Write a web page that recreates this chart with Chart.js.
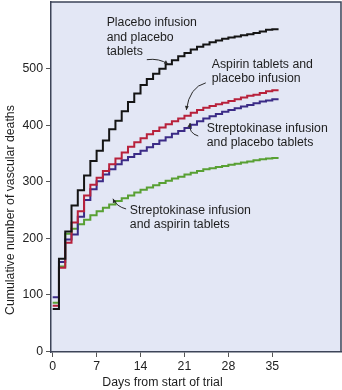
<!DOCTYPE html>
<html>
<head>
<meta charset="utf-8">
<script src="https://cdn.jsdelivr.net/npm/chart.js@4"></script>
<style>
  html, body { margin: 0; padding: 0; background: #fff; }
  canvas { display: block; }
</style>
</head>
<body>
<canvas id="deathsChart" width="342" height="390"></canvas>
<script>
const days = [0, 1, 2, 3, 4, 5, 6, 7, 8, 9, 10, 11, 12, 13, 14, 15, 16, 17, 18, 19, 20, 21, 22, 23, 24, 25, 26, 27, 28, 29, 30, 31, 32, 33, 34, 35, 36];

const placeboBoth = [75, 164, 212, 258, 285, 311, 337, 355, 373, 393, 408, 425, 441, 456, 471, 482, 491, 500, 508, 515, 522, 528, 534, 539, 543, 547, 550, 553, 555, 557, 559, 561, 563, 566, 569, 570, 570];
const aspirinOnly = [81, 148, 192, 228, 248, 276, 295, 307, 319, 331, 341, 352, 362, 370, 377, 384, 390, 396, 402, 407, 412, 417, 422, 427, 431, 434, 437, 440, 443, 446, 449, 452, 454, 457, 460, 462, 462];
const streptoOnly = [96, 158, 198, 207, 238, 268, 287, 301, 313, 322, 331, 338, 344, 349, 355, 361, 367, 373, 379, 385, 390, 395, 401, 407, 412, 416, 420, 424, 427, 430, 433, 436, 439, 442, 444, 446, 446];
const streptoAspirin = [86, 150, 208, 217, 225, 233, 241, 248, 254, 260, 266, 271, 276, 281, 286, 290, 294, 298, 302, 306, 309, 313, 316, 319, 322, 324, 326, 328, 330, 332, 334, 336, 338, 340, 341, 342, 342];

const xTicks = [0, 7, 14, 21, 28, 35];
const yTicks = [0, 100, 200, 300, 400, 500];

const xTitle = 'Days from start of trial';
const yTitle = 'Cumulative number of vascular deaths';

// labels: text lines, anchor in data units, arrow as start / control / end in data units
const notes = [
    { lines: ['Placebo infusion', 'and placebo', 'tablets'], at: [8.6, 581],
      arrow: [[15.0, 516], [17.0, 519], [18.4, 508]] },
    { lines: ['Aspirin tablets and', 'placebo infusion'], at: [25.35, 508],
      arrow: [[24.4, 475], [21.8, 468], [21.3, 427]] },
    { lines: ['Streptokinase infusion', 'and placebo tablets'], at: [24.55, 394],
      arrow: [[23.2, 381], [21.6, 386], [21.9, 404]] },
    { lines: ['Streptokinase infusion', 'and aspirin tablets'], at: [12.3, 249],
      arrow: [[11.7, 252], [10.2, 256], [9.6, 270]] }
];

const FONT = '12.3px "Liberation Sans", Arial, sans-serif';

const frame = {
    id: 'frame',
    beforeDraw(chart) {
        const a = chart.chartArea, c = chart.ctx;
        c.save();
        c.fillStyle = '#e3e7f5';
        c.fillRect(a.left, a.top, a.right - a.left, a.bottom - a.top);
        c.restore();
    },
    afterDraw(chart) {
        const a = chart.chartArea, c = chart.ctx;
        const x = chart.scales.x, y = chart.scales.y;
        c.save();
        c.strokeStyle = '#3d4458';
        c.lineWidth = 1.5;
        c.beginPath();
        c.moveTo(a.left, a.top);
        c.lineTo(a.right, a.top);
        c.lineTo(a.right, a.bottom);
        c.stroke();

        c.fillStyle = '#1e1e1e';
        c.font = FONT;
        c.textBaseline = 'middle';
        c.textAlign = 'left';
        notes.forEach(n => {
            const px = x.getPixelForValue(n.at[0]);
            const py = y.getPixelForValue(n.at[1]);
            n.lines.forEach((t, i) => c.fillText(t, px, py + i * 14.4));

            const p = n.arrow.map(q => [x.getPixelForValue(q[0]), y.getPixelForValue(q[1])]);
            c.strokeStyle = '#2a2a2a';
            c.lineWidth = 1;
            c.beginPath();
            c.moveTo(p[0][0], p[0][1]);
            c.quadraticCurveTo(p[1][0], p[1][1], p[2][0], p[2][1]);
            c.stroke();
            const ang = Math.atan2(p[2][1] - p[1][1], p[2][0] - p[1][0]);
            c.beginPath();
            c.moveTo(p[2][0], p[2][1]);
            c.lineTo(p[2][0] - 4.5 * Math.cos(ang - 0.45), p[2][1] - 4.5 * Math.sin(ang - 0.45));
            c.lineTo(p[2][0] - 4.5 * Math.cos(ang + 0.45), p[2][1] - 4.5 * Math.sin(ang + 0.45));
            c.closePath();
            c.fillStyle = '#2a2a2a';
            c.fill();
            c.fillStyle = '#1e1e1e';
        });

        // axis titles
        c.textAlign = 'center';
        c.fillText(xTitle, (x.getPixelForValue(0) + x.getPixelForValue(35)) / 2, 383);
        c.translate(11, y.getPixelForValue(250));
        c.rotate(-Math.PI / 2);
        c.fillText(yTitle, 0, 0);
        c.restore();
    }
};

const series = (label, data, color) => ({
    label: label,
    data: data,
    borderColor: color,
    borderWidth: 2,
    stepped: true,
    pointRadius: 0,
    fill: false
});

new Chart(document.getElementById('deathsChart').getContext('2d'), {
    type: 'line',
    data: {
        labels: days,
        datasets: [
            series('Placebo infusion and placebo tablets', placeboBoth, '#141414'),
            series('Aspirin tablets and placebo infusion', aspirinOnly, '#b8213b'),
            series('Streptokinase infusion and placebo tablets', streptoOnly, '#3b2b86'),
            series('Streptokinase infusion and aspirin tablets', streptoAspirin, '#58a033')
        ]
    },
    options: {
        responsive: false,
        animation: false,
        layout: { padding: { top: 2, right: 1, left: 0, bottom: 0 } },
        plugins: { legend: { display: false }, tooltip: { enabled: false } },
        scales: {
            x: {
                type: 'linear',
                min: -0.27,
                max: 45.95,
                afterBuildTicks: s => { s.ticks = xTicks.map(v => ({ value: v })); },
                afterFit: s => { s.height = 38; s.paddingLeft = 0; s.paddingRight = 0; },
                grid: { drawOnChartArea: false, drawTicks: true, tickLength: 5, color: '#555' },
                border: { display: true, color: '#3d4458', width: 1.5 },
                ticks: { color: '#222', padding: 2, maxRotation: 0, font: { family: '"Liberation Sans", Arial, sans-serif', size: 12.3 } }
            },
            y: {
                type: 'linear',
                min: -1,
                max: 618,
                afterBuildTicks: s => { s.ticks = yTicks.map(v => ({ value: v })); },
                afterFit: s => { s.width = 51; s.paddingTop = 0; s.paddingBottom = 0; },
                grid: { drawOnChartArea: false, drawTicks: true, tickLength: 5, color: '#555' },
                border: { display: true, color: '#3d4458', width: 1.5 },
                ticks: { color: '#222', padding: 3, font: { family: '"Liberation Sans", Arial, sans-serif', size: 12.3 } }
            }
        }
    },
    plugins: [frame]
});
</script>
</body>
</html>
